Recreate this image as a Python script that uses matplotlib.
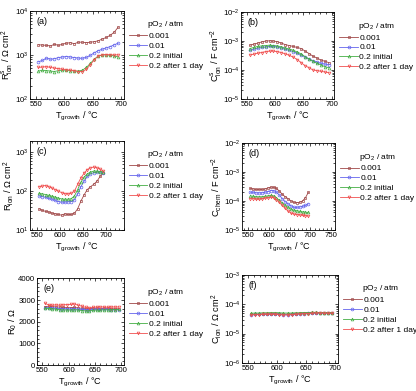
import matplotlib.pyplot as plt

plt.rcParams['font.family'] = ['Liberation Sans', 'DejaVu Sans']
plt.rcParams['mathtext.fontset'] = 'custom'
plt.rcParams['mathtext.rm'] = 'Liberation Sans'
plt.rcParams['mathtext.it'] = 'Liberation Sans'

# growth temperatures (degC)
T = [555, 562, 569, 576, 583, 590, 597, 604, 611, 618, 625,
     632, 639, 646, 653, 660, 667, 674, 681, 688, 695]

labels = ['0.001', '0.01', '0.2 initial', '0.2 after 1 day']
colors = ['#a04848', '#6464ec', '#44ae44', '#f05050']
markers = ['s', 'o', '^', 'v']

# (a) surface ionic resistance, Ohm cm2
Rs_ion = [
    [1700, 1680, 1650, 1600, 1750, 1650, 1750, 1850, 1900, 1800, 1950,
     1950, 1900, 1950, 2000, 2100, 2300, 2500, 2800, 3300, 4300],
    [700, 750, 850, 800, 820, 870, 900, 920, 900, 870, 850,
     840, 880, 980, 1120, 1250, 1350, 1450, 1550, 1700, 1850],
    [430, 450, 440, 430, 420, 440, 450, 450, 440, 430, 430,
     450, 520, 640, 800, 950, 1000, 1000, 980, 950, 900],
    [520, 530, 540, 520, 500, 490, 470, 460, 450, 440, 420,
     420, 470, 600, 780, 950, 1000, 1020, 1000, 1000, 1000],
]

# (b) surface ionic capacitance, F cm-2
Cs_ion = [
    [7.2e-4, 7.8e-4, 8.5e-4, 9.3e-4, 1.0e-3, 1.02e-3, 1.0e-3, 9.5e-4, 8.5e-4, 7.5e-4, 7.0e-4,
     6.5e-4, 6.0e-4, 5.5e-4, 4.5e-4, 3.7e-4, 3.0e-4, 2.6e-4, 2.2e-4, 2.0e-4, 1.8e-4],
    [4.8e-4, 5.2e-4, 5.6e-4, 6.0e-4, 6.3e-4, 6.5e-4, 6.5e-4, 6.3e-4, 5.8e-4, 5.2e-4, 4.8e-4,
     4.3e-4, 3.8e-4, 3.3e-4, 2.8e-4, 2.4e-4, 2.1e-4, 1.9e-4, 1.7e-4, 1.6e-4, 1.5e-4],
    [5.5e-4, 6.0e-4, 6.5e-4, 6.8e-4, 7.0e-4, 7.2e-4, 7.0e-4, 6.8e-4, 6.3e-4, 5.8e-4, 5.3e-4,
     4.8e-4, 4.2e-4, 3.6e-4, 2.9e-4, 2.4e-4, 2.0e-4, 1.7e-4, 1.5e-4, 1.3e-4, 1.2e-4],
    [3.3e-4, 3.5e-4, 3.8e-4, 4.0e-4, 4.3e-4, 4.5e-4, 4.5e-4, 4.3e-4, 4.0e-4, 3.6e-4, 3.2e-4,
     2.8e-4, 2.3e-4, 1.8e-4, 1.4e-4, 1.2e-4, 1.0e-4, 9.5e-5, 9.0e-5, 8.5e-5, 8.0e-5],
]

# (c) ionic resistance, Ohm cm2
R_ion = [
    [35, 32, 30, 29, 27, 26, 25, 24, 26, 25, 25,
     27, 35, 55, 80, 110, 130, 150, 180, 240, 300],
    [75, 72, 70, 65, 62, 58, 54, 52, 52, 53, 54,
     60, 85, 130, 180, 240, 280, 300, 310, 310, 300],
    [88, 85, 82, 78, 74, 70, 66, 63, 62, 62, 64,
     75, 110, 170, 230, 280, 310, 330, 330, 320, 320],
    [130, 135, 140, 130, 120, 110, 100, 92, 86, 85, 88,
     100, 150, 220, 290, 360, 400, 420, 400, 370, 330],
]

# (d) chemical capacitance, F cm-2
C_chem = [
    [2.7e-4, 2.6e-4, 2.5e-4, 2.5e-4, 2.5e-4, 2.6e-4, 2.8e-4, 3.0e-4, 3.0e-4, 2.7e-4, 2.2e-4,
     1.7e-4, 1.4e-4, 1.2e-4, 1.0e-4, 9.0e-5, 8.8e-5, 9.0e-5, 1.0e-4, 1.3e-4, 2.0e-4],
    [2.0e-4, 2.0e-4, 1.9e-4, 1.9e-4, 1.9e-4, 2.0e-4, 2.1e-4, 2.3e-4, 2.3e-4, 2.0e-4, 1.6e-4,
     1.2e-4, 9.5e-5, 8.0e-5, 6.8e-5, 6.0e-5, 6.0e-5, 6.2e-5, 6.5e-5, 7.0e-5, 8.0e-5],
    [1.5e-4, 1.45e-4, 1.4e-4, 1.4e-4, 1.4e-4, 1.45e-4, 1.5e-4, 1.55e-4, 1.5e-4, 1.3e-4, 1.05e-4,
     8.5e-5, 7.0e-5, 6.0e-5, 5.2e-5, 4.8e-5, 4.6e-5, 4.4e-5, 4.2e-5, 4.1e-5, 4.0e-5],
    [1.2e-4, 1.2e-4, 1.15e-4, 1.15e-4, 1.2e-4, 1.25e-4, 1.3e-4, 1.35e-4, 1.3e-4, 1.1e-4, 9.0e-5,
     7.0e-5, 5.5e-5, 4.5e-5, 3.8e-5, 3.5e-5, 3.4e-5, 3.3e-5, 3.2e-5, 3.1e-5, 3.0e-5],
]

# (e) R0, Ohm
R_0 = [
    [2700, 2720, 2700, 2680, 2680, 2660, 2650, 2650, 2660, 2640, 2620,
     2600, 2600, 2620, 2620, 2610, 2620, 2620, 2600, 2600, 2600],
    [2650, 2650, 2640, 2620, 2600, 2600, 2600, 2590, 2600, 2580, 2570,
     2560, 2560, 2580, 2570, 2570, 2580, 2570, 2560, 2560, 2560],
    [2620, 2620, 2600, 2580, 2560, 2550, 2540, 2540, 2560, 2540, 2520,
     2500, 2510, 2530, 2540, 2540, 2550, 2550, 2560, 2560, 2570],
    [2850, 2780, 2760, 2780, 2760, 2780, 2790, 2800, 2820, 2760, 2720,
     2660, 2640, 2660, 2680, 2680, 2680, 2670, 2680, 2680, 2680],
]

# (f) C_ion
C_ion = [
    [4.5e-5, 4.6e-5, 4.6e-5, 4.7e-5, 4.7e-5, 4.8e-5, 4.8e-5, 4.7e-5, 4.6e-5, 4.6e-5, 4.7e-5,
     4.8e-5, 4.9e-5, 5.0e-5, 5.1e-5, 5.2e-5, 5.2e-5, 5.1e-5, 5.1e-5, 5.0e-5, 5.0e-5],
    [4.4e-5, 4.5e-5, 4.5e-5, 4.5e-5, 4.6e-5, 4.6e-5, 4.6e-5, 4.5e-5, 4.4e-5, 4.4e-5, 4.5e-5,
     4.6e-5, 4.7e-5, 4.8e-5, 4.9e-5, 4.9e-5, 4.9e-5, 4.9e-5, 4.9e-5, 4.9e-5, 4.9e-5],
    [4.9e-5, 5.0e-5, 5.0e-5, 5.1e-5, 5.1e-5, 5.2e-5, 5.2e-5, 5.1e-5, 5.0e-5, 5.0e-5, 5.0e-5,
     5.1e-5, 5.1e-5, 5.2e-5, 5.2e-5, 5.3e-5, 5.3e-5, 5.2e-5, 5.2e-5, 5.2e-5, 5.2e-5],
    [4.3e-5, 4.4e-5, 4.4e-5, 4.5e-5, 4.5e-5, 4.5e-5, 4.5e-5, 4.4e-5, 4.3e-5, 4.3e-5, 4.4e-5,
     4.5e-5, 4.6e-5, 4.7e-5, 4.8e-5, 4.9e-5, 5.0e-5, 5.0e-5, 4.9e-5, 4.9e-5, 4.9e-5],
]

fig = plt.figure(figsize=(4.16, 3.91), dpi=100)

panels = [
    # rect, data, ylabel, tag, log, ylim, xlim, xticks
    ([0.072, 0.747, 0.226, 0.225], Rs_ion, r'R$^{\rm s}_{\rm ion}$ / $\Omega$ cm$^2$', '(a)', True,
     (1e2, 1e4), (540, 705), [550, 600, 650, 700]),
    ([0.580, 0.747, 0.224, 0.222], Cs_ion, r'C$^{\rm s}_{\rm ion}$ / F cm$^{-2}$', '(b)', True,
     (1e-5, 1e-2), (540, 705), [550, 600, 650, 700]),
    ([0.072, 0.412, 0.226, 0.228], R_ion, r'R$_{\rm ion}$ / $\Omega$ cm$^2$', '(c)', True,
     (10, 2000), (535, 740), [550, 600, 650, 700]),
    ([0.582, 0.412, 0.224, 0.222], C_chem, r'C$_{\rm chem}$ / F cm$^{-2}$', '(d)', True,
     (1e-5, 1e-2), (535, 760), [550, 600, 650, 700, 750]),
    ([0.089, 0.066, 0.209, 0.222], R_0, r'R$_0$ / $\Omega$', '(e)', False,
     (0, 4000), (540, 705), [550, 600, 650, 700]),
    ([0.582, 0.072, 0.231, 0.225], C_ion, r'C$_{\rm ion}$ / $\Omega$ cm$^2$', '(f)', True,
     (1e-6, 1e-3), (540, 705), [550, 600, 650, 700]),
]

for rect, data, ylab, tag, logy, ylim, xlim, xt in panels:
    ax = fig.add_axes(rect)
    for vals, lab, c, m in zip(data, labels, colors, markers):
        ax.plot(T, vals, color=c, marker=m, markersize=2.0, markerfacecolor='none',
                markeredgewidth=0.5, linewidth=0.6, label=lab)
    if logy:
        ax.set_yscale('log')
    ax.set_ylim(*ylim)
    ax.set_xlim(*xlim)
    ax.set_xticks(xt)
    if not logy:
        ax.set_yticks([0, 1000, 2000, 3000, 4000])
    ax.minorticks_on()
    ax.tick_params(which='both', direction='in', top=True, right=True,
                   labelsize=5.6, width=0.5, pad=1.2)
    ax.tick_params(which='major', length=2.5)
    ax.tick_params(which='minor', length=1.3)
    for s in ax.spines.values():
        s.set_linewidth(0.6)
    ax.set_xlabel(r'T$_{\rm growth}$ / °C', fontsize=6.5, labelpad=1.5)
    ax.set_ylabel(ylab, fontsize=6.7, labelpad=-0.5)
    ax.text(0.07, 0.93, tag, transform=ax.transAxes, fontsize=6.5, va='top')
    ax.legend(title=r'pO$_2$ / atm', loc='upper left', bbox_to_anchor=(1.0, 0.96),
              frameon=False, fontsize=6, title_fontsize=6, handlelength=2.2,
              handletextpad=0.2, labelspacing=0.25, borderaxespad=0.2)

fig.savefig('out.png', dpi=100)
